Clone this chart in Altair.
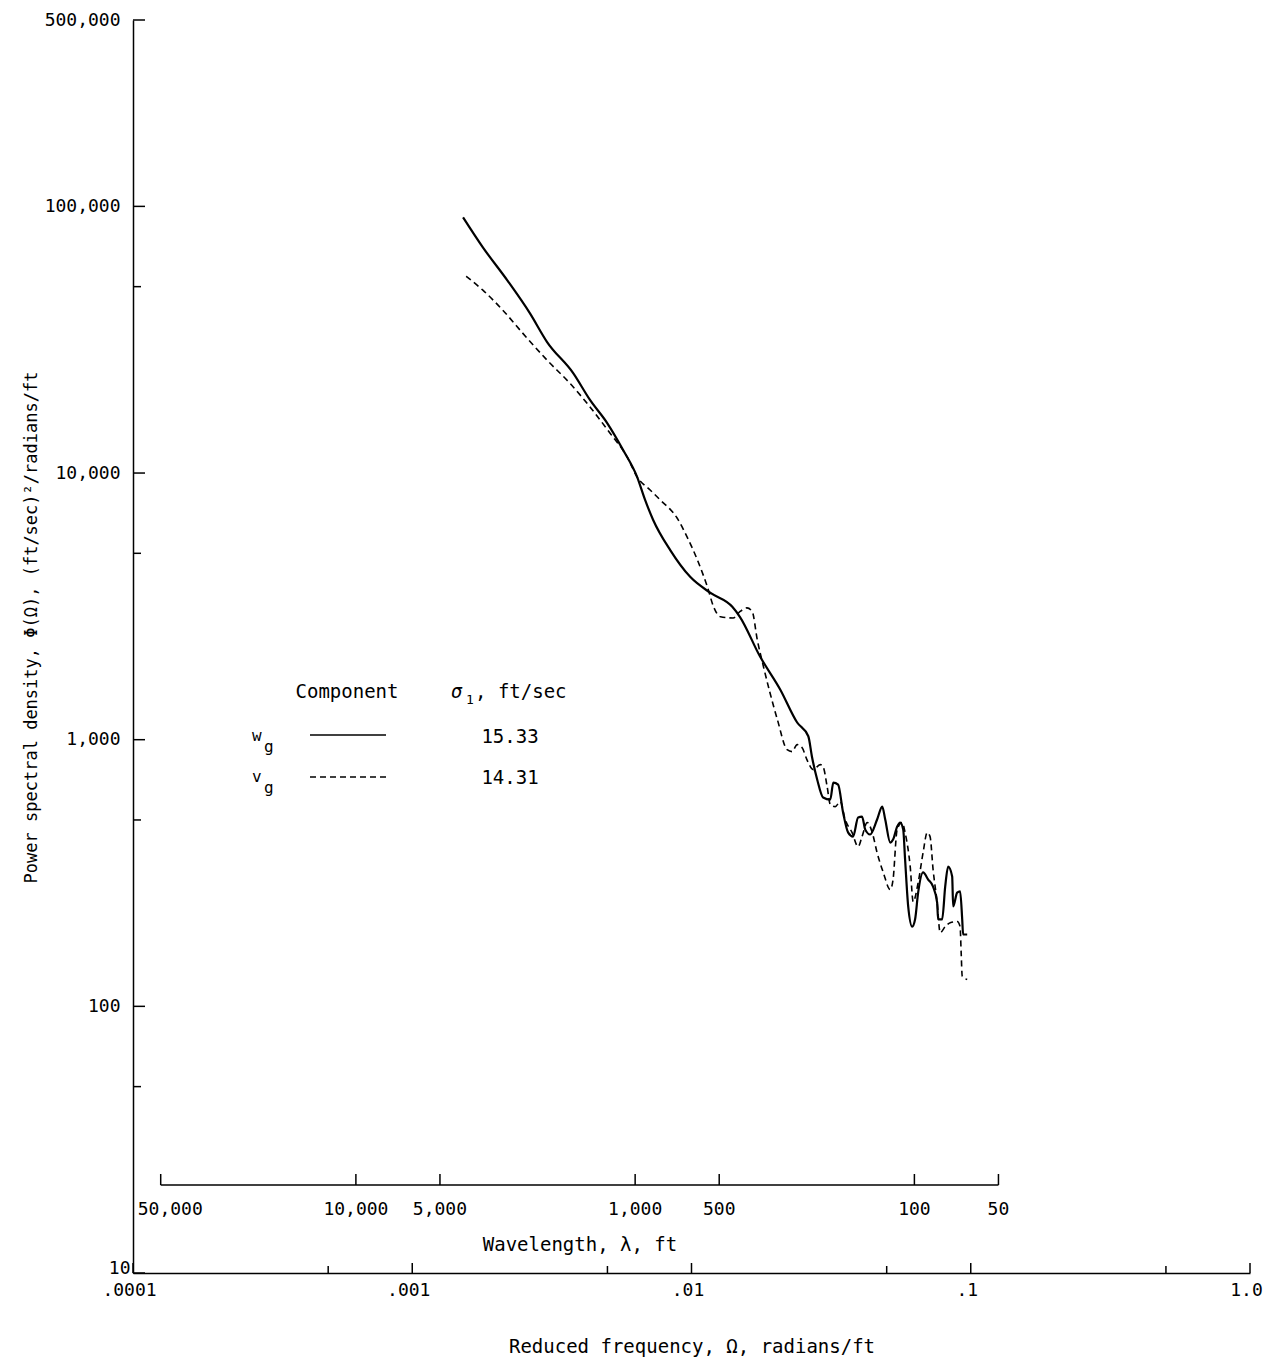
import altair as alt
import pandas as pd

# ---- data -------------------------------------------------------------
# w_g component (solid line): reduced frequency (rad/ft) and PSD
wg_omega = [0.00152, 0.00179, 0.00219, 0.00264, 0.00304, 0.00377, 0.00433, 0.00499,
            0.00569, 0.00639, 0.00682, 0.00729, 0.00838, 0.00989, 0.0117, 0.0140,
            0.0149, 0.0176, 0.0208, 0.0239, 0.0262, 0.0270, 0.0282, 0.0296, 0.0314,
            0.0322, 0.0335, 0.0349, 0.0364, 0.0379, 0.0395, 0.0408, 0.0419, 0.0436,
            0.0462, 0.0482, 0.0494, 0.0515, 0.0527, 0.0545, 0.0559, 0.0573, 0.0582,
            0.0597, 0.0617, 0.0632, 0.0648, 0.0675, 0.0704, 0.0733, 0.0758, 0.0764,
            0.0790, 0.0810, 0.0830, 0.0858, 0.0865, 0.0894, 0.0916, 0.0932, 0.0939,
            0.0971]
wg_phi = [91000, 70200, 52800, 39700, 31000, 23700, 18800, 15400, 12200, 9660, 7930,
          6670, 5150, 4080, 3550, 3150, 2890, 2050, 1540, 1160, 1030, 863, 708, 607,
          596, 690, 678, 533, 448, 433, 511, 515, 460, 441, 502, 561, 502, 411, 422,
          472, 489, 460, 355, 237, 199, 212, 267, 318, 299, 281, 245, 212, 212, 281,
          334, 307, 237, 267, 270, 212, 186, 186]

# v_g component (dashed line)
vg_omega = [0.00156, 0.00179, 0.00211, 0.00249, 0.00304, 0.00367, 0.00433, 0.00511,
            0.00588, 0.00639, 0.00711, 0.00772, 0.00888, 0.00964, 0.0105, 0.0114,
            0.0120, 0.0127, 0.0141, 0.0149, 0.0158, 0.0165, 0.0172, 0.0181, 0.0191,
            0.0203, 0.0220, 0.0229, 0.0239, 0.0249, 0.0259, 0.0273, 0.0289, 0.0296,
            0.0306, 0.0314, 0.0327, 0.0341, 0.0355, 0.0376, 0.0395, 0.0408, 0.0426,
            0.0444, 0.0462, 0.0486, 0.0515, 0.0527, 0.0545, 0.0568, 0.0582, 0.0607,
            0.0622, 0.0648, 0.0675, 0.0698, 0.0715, 0.0733, 0.0758, 0.0777, 0.0810,
            0.0844, 0.0894, 0.0916, 0.0924, 0.0932, 0.0971]
vg_phi = [54700, 48500, 40800, 33400, 26500, 21700, 17700, 14100, 11500, 9660, 8640,
          7930, 6780, 5760, 4720, 3740, 3150, 2890, 2860, 3020, 3120, 3020, 2370, 1880,
          1500, 1190, 917, 902, 958, 933, 842, 772, 806, 792, 667, 571, 561, 586, 502,
          448, 397, 433, 489, 448, 377, 318, 274, 299, 460, 489, 448, 334, 247, 291,
          377, 448, 433, 326, 245, 189, 199, 206, 208, 199, 159, 130, 126]

wavelength_ticks = [50000, 10000, 5000, 1000, 500, 100, 50]
x_major = [0.0001, 0.001, 0.01, 0.1, 1.0]
x_minor = [0.0005, 0.005, 0.05, 0.5]
y_major = [10, 100, 1000, 10000, 100000, 500000]
y_minor = [50, 500, 5000, 50000]
legend_sigma = ["15.33", "14.31"]

# ---- layout ------------------------------------------------------------
W, H = 1117, 1253
FONT = "DejaVu Sans Mono"
FS = 18      # tick labels
TS = 19      # titles and legend text

xscale = alt.Scale(type="log", domain=[0.0001, 1.0], nice=False)
yscale = alt.Scale(type="log", domain=[10, 500000], nice=False)

one = pd.DataFrame({"a": [0]})
wg = pd.DataFrame({"omega": wg_omega, "phi": wg_phi})
vg = pd.DataFrame({"omega": vg_omega, "phi": vg_phi})

x_axis = alt.Axis(
    values=x_major, ticks=False, grid=False, domain=True, domainColor="black",
    domainWidth=1.5, labelFont=FONT, labelFontSize=FS, labelColor="black",
    labelPadding=8, labelFlush=False, labelOverlap=False, labelOffset=-4,
    labelExpr="datum.value >= 1 ? '1.0' : replace(format(datum.value, '.4~f'), '0.', '.')",
    title="Reduced frequency, Ω, radians/ft", titleFont=FONT, titleFontSize=TS,
    titleFontWeight="normal", titleColor="black", titleY=64, titleBaseline="top",
)
y_axis = alt.Axis(
    values=y_major, ticks=False, grid=False, domain=True, domainColor="black",
    domainWidth=1.5, labelFont=FONT, labelFontSize=FS, labelColor="black",
    labelPadding={"condition": {"test": "datum.value <= 10", "value": 3}, "value": 13},
    labelBaseline={"condition": {"test": "datum.value <= 10", "value": "alphabetic"},
                   "value": "middle"},
    labelFlush=False, labelOverlap=False,
    labelExpr="format(datum.value, ',')",
    title="Power spectral density, Φ(Ω), (ft/sec)²/radians/ft", titleFont=FONT,
    titleFontSize=17, titleFontWeight="normal", titleColor="black",
    titleX=-93, titleY=607,
)

X = lambda f: alt.X(f, scale=xscale, axis=x_axis)
Y = lambda f: alt.Y(f, scale=yscale, axis=y_axis)

solid = alt.Chart(wg).mark_line(color="black", strokeWidth=2.2, interpolate="monotone").encode(
    x=X("omega:Q"), y=Y("phi:Q"))
dashed = alt.Chart(vg).mark_line(color="black", strokeWidth=1.6, strokeDash=[6, 4],
                                 interpolate="monotone").encode(
    x=X("omega:Q"), y=Y("phi:Q"))


# inward ticks on the axes
def yticks(vals, length):
    return alt.Chart(pd.DataFrame({"v": vals})).mark_rule(color="black", strokeWidth=1.5).encode(
        y=Y("v:Q"), x=alt.value(0), x2=alt.value(length))


def xticks(vals, length):
    return alt.Chart(pd.DataFrame({"v": vals})).mark_rule(color="black", strokeWidth=1.5).encode(
        x=X("v:Q"), y=alt.value(H), y2=alt.value(H - length))


# wavelength scale drawn inside the plot
wl = alt.Chart(pd.DataFrame({"lam": wavelength_ticks})).transform_calculate(
    omega="2 * PI / datum.lam")
wl_line = wl.transform_aggregate(lo="min(omega)", hi="max(omega)").mark_rule(
    color="black", strokeWidth=1.5).encode(x=X("lo:Q"), x2="hi:Q", y=alt.value(1165))
wl_ticks = wl.mark_rule(color="black", strokeWidth=1.5).encode(
    x=X("omega:Q"), y=alt.value(1165), y2=alt.value(1154))
wl_labels = wl.transform_filter("datum.lam < 50000").mark_text(
    font=FONT, fontSize=FS, color="black", baseline="middle").encode(
    x=X("omega:Q"), y=alt.value(1190), text=alt.Text("lam:Q", format=",d"))
wl_first = wl.transform_filter("datum.lam >= 50000").mark_text(
    font=FONT, fontSize=FS, color="black", baseline="middle", align="left", dx=-23).encode(
    x=X("omega:Q"), y=alt.value(1190), text=alt.Text("lam:Q", format=",d"))


def label(text, x, y, size=TS, align="left", style="normal"):
    return alt.Chart(one).mark_text(text=text, font=FONT, fontSize=size, align=align,
                                    baseline="middle", fontStyle=style, color="black").encode(
        x=alt.value(x), y=alt.value(y))


def seg(x1, x2, y, dash=None):
    kw = dict(color="black", strokeWidth=1.6)
    if dash:
        kw["strokeDash"] = dash
    return alt.Chart(one).mark_rule(**kw).encode(x=alt.value(x1), x2=alt.value(x2), y=alt.value(y))


layers = [
    solid, dashed,
    yticks(y_major, 12), yticks(y_minor, 8),
    xticks(x_major, 10), xticks(x_minor, 7),
    wl_line, wl_ticks, wl_labels, wl_first,
    label("Wavelength, λ, ft", 447, 1225, align="center"),
    # legend block
    label("Component", 214, 672, align="center"),
    label("σ", 318, 672, style="italic"),
    label("1", 333, 680, size=13),
    label(", ft/sec", 342, 672),
    label("w", 119, 716, size=16),
    label("g", 131, 727, size=16),
    seg(177, 253, 715),
    label(legend_sigma[0], 377, 717, align="center"),
    label("v", 119, 757, size=16),
    label("g", 131, 768, size=16),
    seg(177, 253, 757, dash=[6, 4]),
    label(legend_sigma[1], 377, 758, align="center"),
]

chart = alt.layer(*layers).properties(
    width=W, height=H,
    autosize=alt.AutoSizeParams(type="none"),
    padding={"left": 133, "top": 20, "right": 19, "bottom": 86},
    background="white",
).configure_view(stroke=None)

chart.save("out.html", embed_options={"renderer": "svg", "actions": False})
